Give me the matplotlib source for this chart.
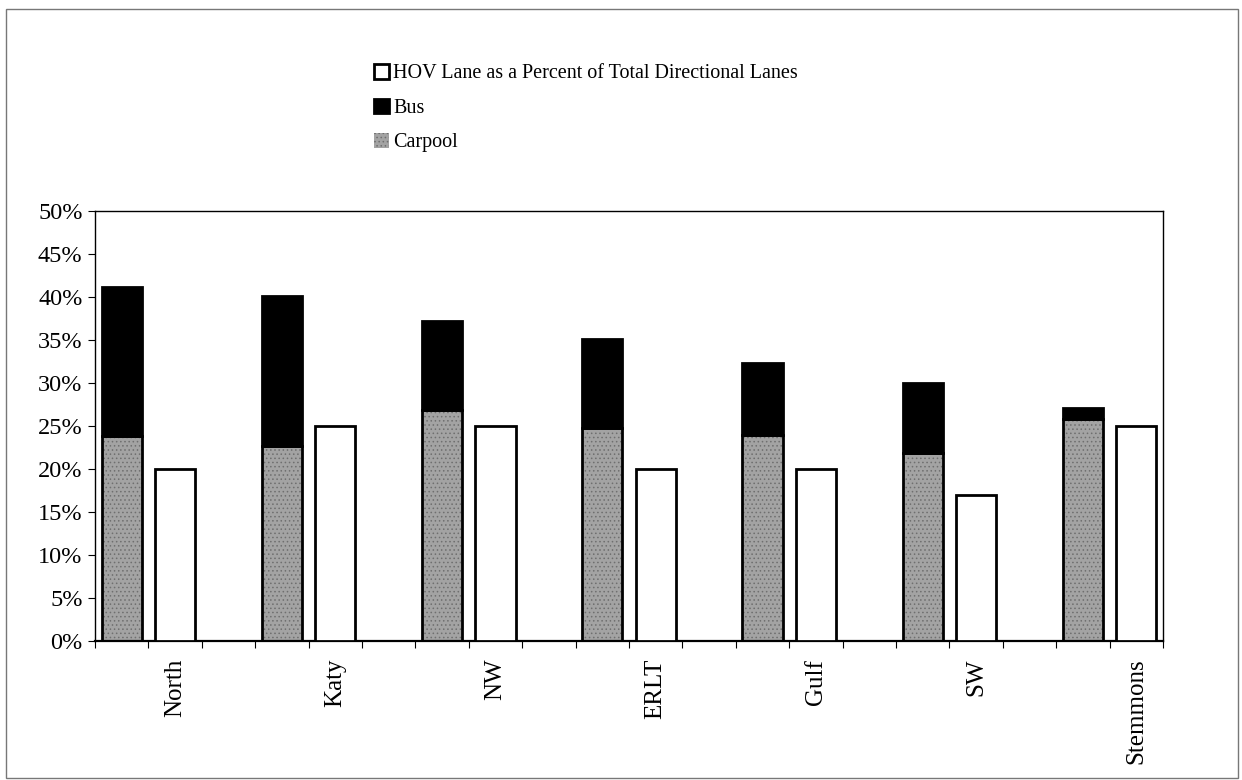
import numpy as np
import matplotlib
matplotlib.use("Agg")
import matplotlib.pyplot as plt
from matplotlib.patches import Rectangle
from matplotlib.ticker import PercentFormatter, MultipleLocator, FixedLocator

# # data (percent)
corridors = ["North", "Katy", "NW", "ERLT", "Gulf", "SW", "Stemmons"]
carpool   = [23.8, 22.7, 26.8, 24.7, 23.9, 21.8, 25.8]
total     = [41.1, 40.1, 37.2, 35.1, 32.3, 30.0, 27.1]
hov_lane  = [20.0, 25.0, 25.0, 20.0, 20.0, 17.0, 25.0]
bus       = [t - c for t, c in zip(total, carpool)]

plt.rcParams['font.family'] = ['Liberation Serif', 'DejaVu Serif']
plt.rcParams['hatch.linewidth'] = 0.6

fig = plt.figure(figsize=(12.42, 7.8), dpi=100)
# thin grey frame round the whole chart
fig.patches.append(Rectangle((0.005, 0.003), 0.992, 0.985, transform=fig.transFigure,
                             fill=False, ec='#777777', lw=1.0))

ax = fig.add_axes([95/1242, 1-640.7/780, (1163-95)/1242, (640.7-211)/780])

# each corridor takes 3 category slots: stacked bar, white bar, gap (last gap dropped)
n = len(corridors)
x_stack = np.arange(n)*3 + 0.5
x_white = np.arange(n)*3 + 1.5
w = 0.75

b_car = ax.bar(x_stack, carpool, w, color='#a3a3a3', edgecolor='#6f6f6f', hatch='....', lw=0, zorder=2)
ax.bar(x_stack, carpool, w, fill=False, edgecolor='black', lw=2, zorder=3)
b_bus = ax.bar(x_stack, bus, w, bottom=carpool, color='black', edgecolor='black', lw=2, zorder=3)
b_hov = ax.bar(x_white, hov_lane, w, color='white', edgecolor='black', lw=2, zorder=3)

ax.set_xlim(0, 3*n - 1)
ax.set_ylim(0, 50)
ax.yaxis.set_major_locator(MultipleLocator(5))
ax.yaxis.set_major_formatter(PercentFormatter(decimals=0))

ax.xaxis.set_major_locator(FixedLocator(x_white))
ax.set_xticklabels(corridors, rotation=90, va='top', ha='center')
ax.xaxis.set_minor_locator(FixedLocator(np.arange(0, 3*n)))
ax.tick_params(axis='x', which='major', length=0, pad=13, labelsize=18)
ax.tick_params(axis='x', which='minor', length=5, width=0.8, direction='out')
ax.tick_params(axis='y', length=5, width=0.8, direction='out', labelsize=17.5, pad=4)

for s in ax.spines.values():
    s.set_linewidth(1.0)
ax.spines['bottom'].set_linewidth(1.6)

fig.legend([b_hov, b_bus, b_car],
           ["HOV Lane as a Percent of Total Directional Lanes", "Bus", "Carpool"],
           loc='upper left', bbox_to_anchor=(366/1242, 1-56/780), frameon=False,
           fontsize=14.5, handlelength=0.75, handleheight=0.75, handletextpad=0.2,
           labelspacing=0.75, borderaxespad=0)

fig.savefig("out.png", dpi=100)
